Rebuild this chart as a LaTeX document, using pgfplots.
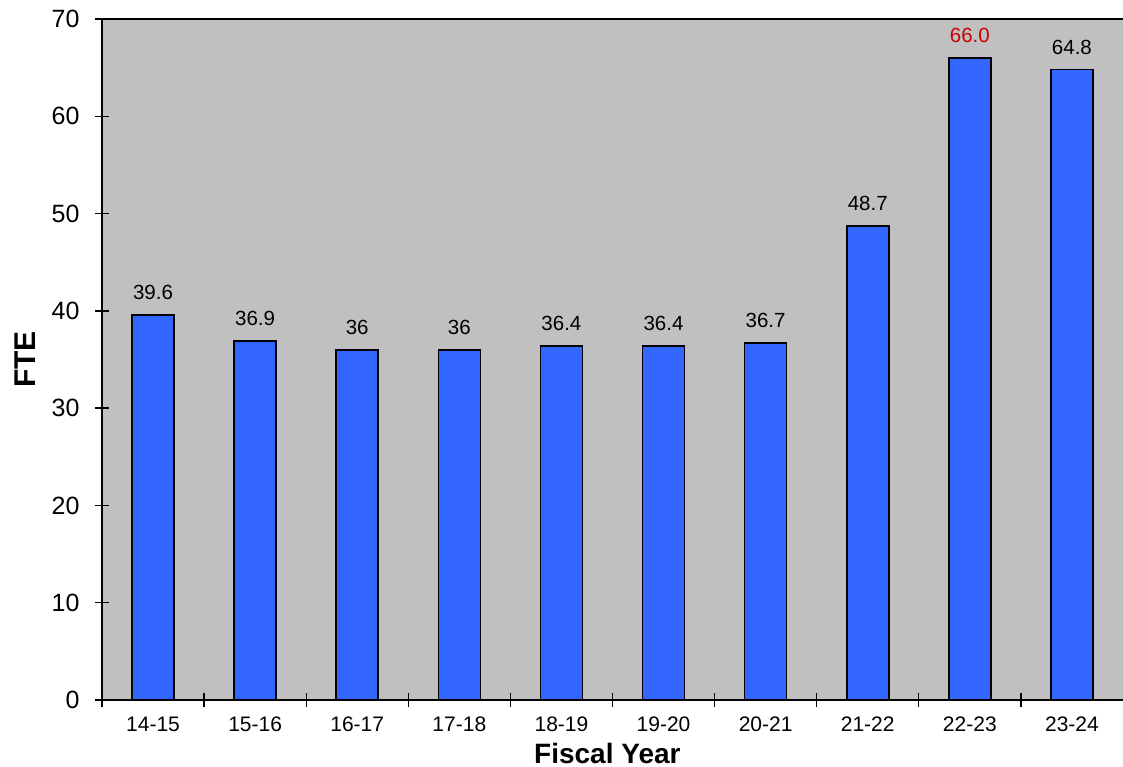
\documentclass[border=0pt]{standalone}
\usepackage{pgfplots}
\pgfplotsset{compat=1.18}
\usepackage{fontspec}
\setmainfont{Liberation Sans}
\definecolor{plotbg}{RGB}{192,192,192}
\definecolor{barblue}{RGB}{51,102,255}
\definecolor{labred}{RGB}{204,0,0}
\begin{document}
\begin{tikzpicture}[x=1pt,y=1pt]
\path[use as bounding box] (-102,-67) rectangle (1021,700);
\begin{axis}[
    at={(0,0)}, anchor=south west,
    scale only axis,
    width=1021pt, height=681pt,
    ybar, bar width=42pt, bar shift=0pt,
    xmin=-0.5, xmax=9.5,
    ymin=0, ymax=70,
    axis x line*=bottom, axis y line*=left,
    axis line style={line width=1.5pt, -},
    axis background/.style={fill=plotbg},
    xtick={0,...,9},
    xticklabels={14-15,15-16,16-17,17-18,18-19,19-20,20-21,21-22,22-23,23-24},
    minor xtick={-0.5,0.5,...,8.5},
    ytick={0,10,...,70},
    tick align=center,
    every tick/.style={black, line width=1.3pt},
    x tick style={draw=none},
    minor x tick style={draw=black, line width=1.3pt},
    minor tick length=14pt,
    major tick length=14pt,
    /pgf/number format/assume math mode=true,
    ticklabel style={font=\fontsize{21}{24}\selectfont},
    yticklabel style={font=\fontsize{25}{28}\selectfont, anchor=east, xshift=-12pt},
    xticklabel style={anchor=base, yshift=-25pt},
    xlabel={\bfseries Fiscal Year},
    ylabel={\bfseries FTE},
    xlabel style={font=\fontsize{28}{32}\selectfont, at={(axis description cs:0.495,-0.0935)}, anchor=base},
    ylabel style={font=\fontsize{30}{34}\selectfont, at={(axis description cs:-0.0656,0.5)}, anchor=base},
    nodes near coords,
    point meta=explicit symbolic,
    every node near coord/.append style={font=\fontsize{20.5}{23}\selectfont, anchor=base, yshift=15.5pt, inner sep=0pt},
    clip=false,
]
\addplot[fill=barblue, draw=black, line width=1.6pt] table[meta=lab] {
x y lab
0 39.6 39.6
1 36.9 36.9
2 36 36
3 36 36
4 36.4 36.4
5 36.4 36.4
6 36.7 36.7
7 48.7 48.7
9 64.8 64.8
};
\addplot[fill=barblue, draw=black, line width=1.6pt, every node near coord/.append style={text=labred}] table[meta=lab] {
x y lab
8 66.0 66.0
};
\draw[line width=1.5pt] (rel axis cs:0,1) -- (rel axis cs:1,1);
\end{axis}
\end{tikzpicture}
\end{document}
